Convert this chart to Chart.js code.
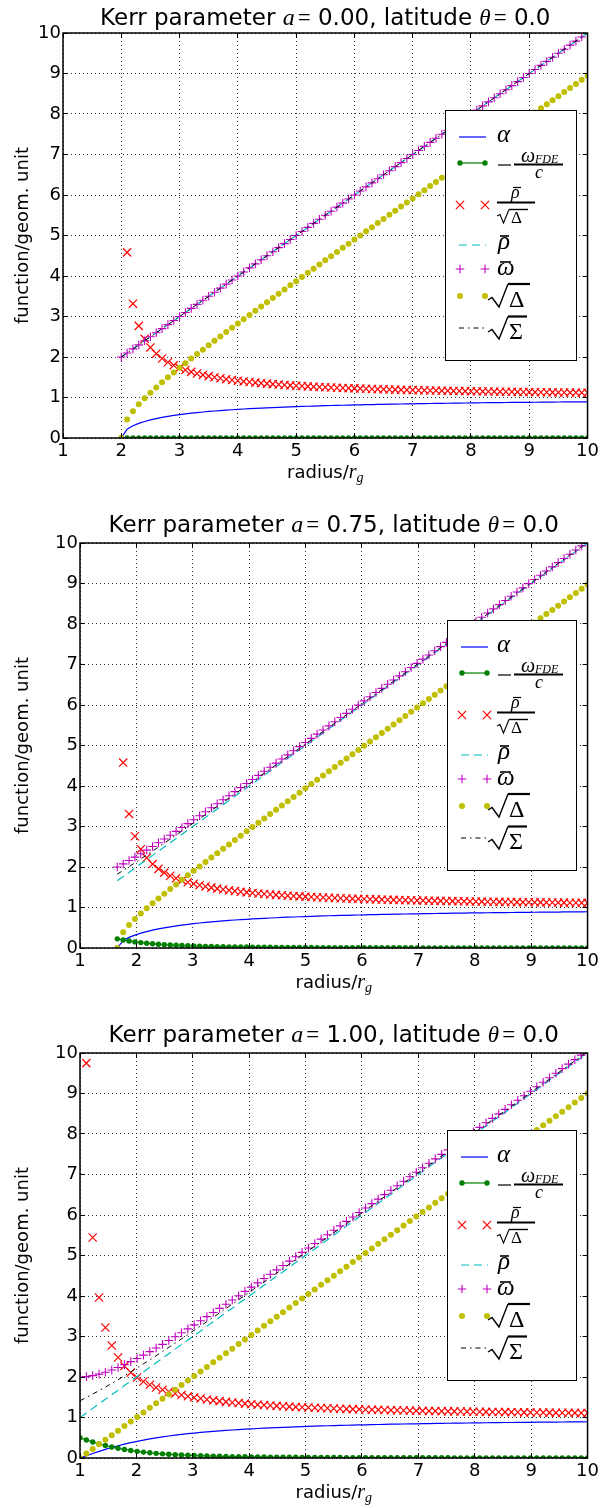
<!DOCTYPE html>
<html>
<head>
<meta charset="utf-8">
<script src="https://cdn.jsdelivr.net/npm/chart.js@4.4.0/dist/chart.umd.min.js"></script>
<style>
  body { margin: 0; background: #fff; width: 602px; height: 1508px; overflow: hidden; }
  canvas { position: absolute; left: 0; }
</style>
</head>
<body>
<canvas id="chart1" width="602" height="488" style="top:0px"></canvas>
<canvas id="chart2" width="602" height="488" style="top:510px"></canvas>
<canvas id="chart3" width="602" height="488" style="top:1020px"></canvas>
<script>
// Tick labels and panel parameters
const xTicks = [1, 2, 3, 4, 5, 6, 7, 8, 9, 10];
const yTicks = [0, 1, 2, 3, 4, 5, 6, 7, 8, 9, 10];
const kerrSpin = ['0.00', '0.75', '1.00'];
const latitude = '0.0';

// ---- Panel 1: a = 0.00 ----
const radius1 = [2.0,2.1,2.2,2.3,2.4,2.5,2.6,2.7,2.8,2.9,3.0,3.1,3.2,3.3,3.4,3.5,3.6,3.7,3.8,3.9,4.0,4.1,4.2,4.3,4.4,4.5,4.6,4.7,4.8,4.9,5.0,5.1,5.2,5.3,5.4,5.5,5.6,5.7,5.8,5.9,6.0,6.1,6.2,6.3,6.4,6.5,6.6,6.7,6.8,6.9,7.0,7.1,7.2,7.3,7.4,7.5,7.6,7.7,7.8,7.9,8.0,8.1,8.2,8.3,8.4,8.5,8.6,8.7,8.8,8.9,9.0,9.1,9.2,9.3,9.4,9.5,9.6,9.7,9.8,9.9,10.0];
const alpha1 = [0.000,0.218,0.302,0.361,0.408,0.447,0.480,0.509,0.535,0.557,0.577,0.596,0.612,0.628,0.642,0.655,0.667,0.678,0.688,0.698,0.707,0.716,0.724,0.731,0.739,0.745,0.752,0.758,0.764,0.769,0.775,0.780,0.784,0.789,0.794,0.798,0.802,0.806,0.809,0.813,0.816,0.820,0.823,0.826,0.829,0.832,0.835,0.838,0.840,0.843,0.845,0.848,0.850,0.852,0.854,0.856,0.858,0.860,0.862,0.864,0.866,0.868,0.870,0.871,0.873,0.874,0.876,0.878,0.879,0.880,0.882,0.883,0.885,0.886,0.887,0.889,0.890,0.891,0.892,0.893,0.894];
const omegaFDE1 = [0,0,0,0,0,0,0,0,0,0,0,0,0,0,0,0,0,0,0,0,0,0,0,0,0,0,0,0,0,0,0,0,0,0,0,0,0,0,0,0,0,0,0,0,0,0,0,0,0,0,0,0,0,0,0,0,0,0,0,0,0,0,0,0,0,0,0,0,0,0,0,0,0,0,0,0,0,0,0,0,0];
const rhoOverSqrtDelta1 = [null,4.583,3.317,2.769,2.449,2.236,2.082,1.964,1.871,1.795,1.732,1.679,1.633,1.593,1.558,1.528,1.500,1.475,1.453,1.433,1.414,1.397,1.382,1.367,1.354,1.342,1.330,1.319,1.309,1.300,1.291,1.283,1.275,1.267,1.260,1.254,1.247,1.241,1.235,1.230,1.225,1.220,1.215,1.210,1.206,1.202,1.198,1.194,1.190,1.187,1.183,1.180,1.177,1.174,1.171,1.168,1.165,1.162,1.160,1.157,1.155,1.152,1.150,1.148,1.146,1.144,1.142,1.140,1.138,1.136,1.134,1.132,1.130,1.129,1.127,1.125,1.124,1.122,1.121,1.119,1.118];
const rhoBar1 = [2.0,2.1,2.2,2.3,2.4,2.5,2.6,2.7,2.8,2.9,3.0,3.1,3.2,3.3,3.4,3.5,3.6,3.7,3.8,3.9,4.0,4.1,4.2,4.3,4.4,4.5,4.6,4.7,4.8,4.9,5.0,5.1,5.2,5.3,5.4,5.5,5.6,5.7,5.8,5.9,6.0,6.1,6.2,6.3,6.4,6.5,6.6,6.7,6.8,6.9,7.0,7.1,7.2,7.3,7.4,7.5,7.6,7.7,7.8,7.9,8.0,8.1,8.2,8.3,8.4,8.5,8.6,8.7,8.8,8.9,9.0,9.1,9.2,9.3,9.4,9.5,9.6,9.7,9.8,9.9,10.0];
const varpiBar1 = [2.0,2.1,2.2,2.3,2.4,2.5,2.6,2.7,2.8,2.9,3.0,3.1,3.2,3.3,3.4,3.5,3.6,3.7,3.8,3.9,4.0,4.1,4.2,4.3,4.4,4.5,4.6,4.7,4.8,4.9,5.0,5.1,5.2,5.3,5.4,5.5,5.6,5.7,5.8,5.9,6.0,6.1,6.2,6.3,6.4,6.5,6.6,6.7,6.8,6.9,7.0,7.1,7.2,7.3,7.4,7.5,7.6,7.7,7.8,7.9,8.0,8.1,8.2,8.3,8.4,8.5,8.6,8.7,8.8,8.9,9.0,9.1,9.2,9.3,9.4,9.5,9.6,9.7,9.8,9.9,10.0];
const sqrtDelta1 = [0.000,0.458,0.663,0.831,0.980,1.118,1.249,1.375,1.497,1.616,1.732,1.847,1.960,2.071,2.182,2.291,2.400,2.508,2.615,2.722,2.828,2.934,3.040,3.145,3.250,3.354,3.458,3.562,3.666,3.770,3.873,3.976,4.079,4.182,4.285,4.387,4.490,4.592,4.695,4.797,4.899,5.001,5.103,5.205,5.307,5.408,5.510,5.612,5.713,5.815,5.916,6.017,6.119,6.220,6.321,6.423,6.524,6.625,6.726,6.827,6.928,7.029,7.130,7.231,7.332,7.433,7.534,7.635,7.736,7.836,7.937,8.038,8.139,8.240,8.340,8.441,8.542,8.642,8.743,8.844,8.944];
const sqrtSigma1 = [2.0,2.1,2.2,2.3,2.4,2.5,2.6,2.7,2.8,2.9,3.0,3.1,3.2,3.3,3.4,3.5,3.6,3.7,3.8,3.9,4.0,4.1,4.2,4.3,4.4,4.5,4.6,4.7,4.8,4.9,5.0,5.1,5.2,5.3,5.4,5.5,5.6,5.7,5.8,5.9,6.0,6.1,6.2,6.3,6.4,6.5,6.6,6.7,6.8,6.9,7.0,7.1,7.2,7.3,7.4,7.5,7.6,7.7,7.8,7.9,8.0,8.1,8.2,8.3,8.4,8.5,8.6,8.7,8.8,8.9,9.0,9.1,9.2,9.3,9.4,9.5,9.6,9.7,9.8,9.9,10.0];

// ---- Panel 2: a = 0.75 ----
const radius2 = [1.661,1.766,1.870,1.974,2.078,2.183,2.287,2.391,2.495,2.600,2.704,2.808,2.912,3.016,3.121,3.225,3.329,3.433,3.538,3.642,3.746,3.850,3.955,4.059,4.163,4.267,4.371,4.476,4.580,4.684,4.788,4.893,4.997,5.101,5.205,5.310,5.414,5.518,5.622,5.726,5.831,5.935,6.039,6.143,6.248,6.352,6.456,6.560,6.665,6.769,6.873,6.977,7.082,7.186,7.290,7.394,7.498,7.603,7.707,7.811,7.915,8.020,8.124,8.228,8.332,8.437,8.541,8.645,8.749,8.853,8.958,9.062,9.166,9.270,9.375,9.479,9.583,9.687,9.792,9.896,10.000];
const alpha2 = [0.000,0.186,0.262,0.319,0.366,0.406,0.440,0.471,0.498,0.523,0.545,0.566,0.584,0.601,0.617,0.632,0.645,0.658,0.669,0.680,0.691,0.700,0.709,0.718,0.726,0.733,0.741,0.747,0.754,0.760,0.766,0.771,0.777,0.782,0.787,0.791,0.796,0.800,0.804,0.808,0.812,0.815,0.819,0.822,0.825,0.829,0.832,0.835,0.837,0.840,0.843,0.845,0.848,0.850,0.852,0.855,0.857,0.859,0.861,0.863,0.865,0.867,0.869,0.870,0.872,0.874,0.875,0.877,0.879,0.880,0.882,0.883,0.884,0.886,0.887,0.888,0.890,0.891,0.892,0.893,0.895];
const omegaFDE2 = [0.226,0.197,0.172,0.151,0.133,0.118,0.104,0.093,0.083,0.074,0.067,0.060,0.055,0.050,0.045,0.041,0.038,0.034,0.032,0.029,0.027,0.025,0.023,0.021,0.020,0.018,0.017,0.016,0.015,0.014,0.013,0.012,0.012,0.011,0.010,0.010,0.009,0.009,0.008,0.008,0.007,0.007,0.007,0.006,0.006,0.006,0.005,0.005,0.005,0.005,0.005,0.004,0.004,0.004,0.004,0.004,0.004,0.003,0.003,0.003,0.003,0.003,0.003,0.003,0.003,0.002,0.002,0.002,0.002,0.002,0.002,0.002,0.002,0.002,0.002,0.002,0.002,0.002,0.002,0.002,0.001];
const rhoOverSqrtDelta2 = [null,4.578,3.310,2.760,2.440,2.226,2.072,1.954,1.861,1.785,1.722,1.669,1.623,1.584,1.549,1.518,1.491,1.466,1.444,1.424,1.406,1.389,1.373,1.359,1.346,1.334,1.322,1.312,1.302,1.292,1.284,1.275,1.268,1.260,1.253,1.247,1.241,1.235,1.229,1.224,1.218,1.214,1.209,1.204,1.200,1.196,1.192,1.188,1.185,1.181,1.178,1.175,1.171,1.168,1.165,1.163,1.160,1.157,1.155,1.152,1.150,1.148,1.145,1.143,1.141,1.139,1.137,1.135,1.133,1.131,1.130,1.128,1.126,1.125,1.123,1.121,1.120,1.118,1.117,1.116,1.114];
const rhoBar2 = [1.661,1.766,1.870,1.974,2.078,2.183,2.287,2.391,2.495,2.600,2.704,2.808,2.912,3.016,3.121,3.225,3.329,3.433,3.538,3.642,3.746,3.850,3.955,4.059,4.163,4.267,4.371,4.476,4.580,4.684,4.788,4.893,4.997,5.101,5.205,5.310,5.414,5.518,5.622,5.726,5.831,5.935,6.039,6.143,6.248,6.352,6.456,6.560,6.665,6.769,6.873,6.977,7.082,7.186,7.290,7.394,7.498,7.603,7.707,7.811,7.915,8.020,8.124,8.228,8.332,8.437,8.541,8.645,8.749,8.853,8.958,9.062,9.166,9.270,9.375,9.479,9.583,9.687,9.792,9.896,10.000];
const varpiBar2 = [2.000,2.078,2.159,2.243,2.329,2.417,2.507,2.598,2.691,2.784,2.879,2.975,3.071,3.168,3.265,3.363,3.462,3.561,3.660,3.760,3.860,3.960,4.060,4.161,4.262,4.363,4.464,4.566,4.667,4.769,4.871,4.973,5.075,5.177,5.280,5.382,5.484,5.587,5.690,5.792,5.895,5.998,6.101,6.204,6.307,6.410,6.513,6.616,6.719,6.822,6.926,7.029,7.132,7.236,7.339,7.442,7.546,7.649,7.753,7.856,7.960,8.063,8.167,8.270,8.374,8.478,8.581,8.685,8.789,8.892,8.996,9.100,9.203,9.307,9.411,9.515,9.618,9.722,9.826,9.930,10.034];
const sqrtDelta2 = [0.000,0.386,0.565,0.715,0.852,0.980,1.104,1.224,1.341,1.456,1.570,1.683,1.794,1.905,2.015,2.124,2.233,2.342,2.450,2.558,2.665,2.773,2.880,2.986,3.093,3.200,3.306,3.412,3.518,3.624,3.730,3.836,3.942,4.047,4.153,4.259,4.364,4.469,4.575,4.680,4.785,4.890,4.996,5.101,5.206,5.311,5.416,5.521,5.626,5.731,5.836,5.941,6.045,6.150,6.255,6.360,6.465,6.569,6.674,6.779,6.884,6.988,7.093,7.198,7.302,7.407,7.512,7.616,7.721,7.826,7.930,8.035,8.139,8.244,8.348,8.453,8.558,8.662,8.767,8.871,8.976];
const sqrtSigma2 = [1.823,1.915,2.009,2.104,2.200,2.297,2.394,2.492,2.591,2.690,2.790,2.890,2.991,3.091,3.192,3.293,3.395,3.497,3.598,3.700,3.802,3.905,4.007,4.110,4.212,4.315,4.418,4.521,4.623,4.727,4.830,4.933,5.036,5.139,5.242,5.346,5.449,5.552,5.656,5.759,5.863,5.966,6.070,6.174,6.277,6.381,6.485,6.588,6.692,6.796,6.899,7.003,7.107,7.211,7.314,7.418,7.522,7.626,7.730,7.834,7.938,8.041,8.145,8.249,8.353,8.457,8.561,8.665,8.769,8.873,8.977,9.081,9.185,9.289,9.393,9.497,9.601,9.705,9.809,9.913,10.017];

// ---- Panel 3: a = 1.00 ----
const radius3 = [1.000,1.113,1.225,1.338,1.450,1.563,1.675,1.788,1.900,2.013,2.125,2.238,2.350,2.463,2.575,2.688,2.800,2.913,3.025,3.138,3.250,3.363,3.475,3.588,3.700,3.813,3.925,4.038,4.150,4.263,4.375,4.488,4.600,4.713,4.825,4.938,5.050,5.163,5.275,5.388,5.500,5.613,5.725,5.838,5.950,6.063,6.175,6.288,6.400,6.513,6.625,6.738,6.850,6.963,7.075,7.188,7.300,7.413,7.525,7.638,7.750,7.863,7.975,8.088,8.200,8.313,8.425,8.538,8.650,8.763,8.875,8.988,9.100,9.213,9.325,9.438,9.550,9.663,9.775,9.888,10.000];
const alpha3 = [0.000,0.056,0.111,0.163,0.213,0.259,0.302,0.342,0.378,0.412,0.443,0.471,0.497,0.521,0.543,0.564,0.582,0.600,0.616,0.631,0.645,0.658,0.670,0.681,0.692,0.702,0.711,0.720,0.728,0.736,0.744,0.751,0.757,0.764,0.770,0.775,0.781,0.786,0.791,0.796,0.800,0.805,0.809,0.813,0.817,0.820,0.824,0.827,0.831,0.834,0.837,0.840,0.843,0.845,0.848,0.850,0.853,0.855,0.858,0.860,0.862,0.864,0.866,0.868,0.870,0.872,0.874,0.876,0.877,0.879,0.881,0.882,0.884,0.885,0.887,0.888,0.889,0.891,0.892,0.893,0.895];
const omegaFDE3 = [0.500,0.446,0.395,0.349,0.308,0.271,0.239,0.211,0.186,0.164,0.146,0.130,0.115,0.103,0.092,0.083,0.075,0.068,0.061,0.056,0.051,0.046,0.042,0.039,0.035,0.033,0.030,0.028,0.026,0.024,0.022,0.021,0.019,0.018,0.017,0.016,0.015,0.014,0.013,0.012,0.012,0.011,0.010,0.010,0.009,0.009,0.008,0.008,0.007,0.007,0.007,0.006,0.006,0.006,0.006,0.005,0.005,0.005,0.005,0.004,0.004,0.004,0.004,0.004,0.004,0.003,0.003,0.003,0.003,0.003,0.003,0.003,0.003,0.003,0.002,0.002,0.002,0.002,0.002,0.002,0.002];
const rhoOverSqrtDelta3 = [null,9.75,5.444,3.963,3.222,2.778,2.481,2.270,2.111,1.988,1.889,1.808,1.741,1.684,1.635,1.593,1.556,1.523,1.494,1.468,1.444,1.423,1.404,1.386,1.370,1.356,1.342,1.329,1.317,1.307,1.296,1.287,1.278,1.269,1.261,1.254,1.247,1.240,1.234,1.228,1.222,1.217,1.212,1.207,1.202,1.198,1.193,1.189,1.185,1.181,1.178,1.174,1.171,1.168,1.165,1.162,1.159,1.156,1.153,1.151,1.148,1.146,1.143,1.141,1.139,1.137,1.135,1.133,1.131,1.129,1.127,1.125,1.123,1.122,1.120,1.119,1.117,1.115,1.114,1.113,1.111];
const rhoBar3 = [1.000,1.113,1.225,1.338,1.450,1.563,1.675,1.788,1.900,2.013,2.125,2.238,2.350,2.463,2.575,2.688,2.800,2.913,3.025,3.138,3.250,3.363,3.475,3.588,3.700,3.813,3.925,4.038,4.150,4.263,4.375,4.488,4.600,4.713,4.825,4.938,5.050,5.163,5.275,5.388,5.500,5.613,5.725,5.838,5.950,6.063,6.175,6.288,6.400,6.513,6.625,6.738,6.850,6.963,7.075,7.188,7.300,7.413,7.525,7.638,7.750,7.863,7.975,8.088,8.200,8.313,8.425,8.538,8.650,8.763,8.875,8.988,9.100,9.213,9.325,9.438,9.550,9.663,9.775,9.888,10.000];
const varpiBar3 = [2.000,2.009,2.033,2.070,2.117,2.173,2.236,2.305,2.380,2.458,2.541,2.627,2.715,2.806,2.900,2.994,3.091,3.189,3.288,3.388,3.490,3.592,3.695,3.798,3.903,4.007,4.113,4.219,4.325,4.431,4.538,4.646,4.753,4.861,4.969,5.078,5.186,5.295,5.404,5.513,5.623,5.732,5.842,5.951,6.061,6.171,6.281,6.391,6.502,6.612,6.723,6.833,6.944,7.054,7.165,7.276,7.387,7.498,7.609,7.720,7.831,7.942,8.053,8.164,8.276,8.387,8.498,8.609,8.721,8.832,8.944,9.055,9.167,9.278,9.390,9.501,9.613,9.725,9.836,9.948,10.060];
const sqrtDelta3 = [0.000,0.113,0.225,0.338,0.450,0.563,0.675,0.788,0.900,1.013,1.125,1.238,1.350,1.463,1.575,1.688,1.800,1.913,2.025,2.138,2.250,2.363,2.475,2.588,2.700,2.813,2.925,3.038,3.150,3.263,3.375,3.488,3.600,3.713,3.825,3.938,4.050,4.163,4.275,4.388,4.500,4.613,4.725,4.838,4.950,5.063,5.175,5.288,5.400,5.513,5.625,5.738,5.850,5.963,6.075,6.188,6.300,6.413,6.525,6.638,6.750,6.863,6.975,7.088,7.200,7.313,7.425,7.538,7.650,7.763,7.875,7.988,8.100,8.213,8.325,8.438,8.550,8.663,8.775,8.888,9.000];
const sqrtSigma3 = [1.414,1.495,1.578,1.664,1.752,1.843,1.935,2.030,2.126,2.224,2.324,2.424,2.526,2.629,2.733,2.837,2.942,3.048,3.154,3.261,3.368,3.475,3.583,3.692,3.800,3.909,4.018,4.127,4.237,4.346,4.456,4.566,4.676,4.786,4.897,5.007,5.118,5.228,5.339,5.450,5.561,5.672,5.783,5.894,6.005,6.117,6.228,6.339,6.451,6.562,6.674,6.785,6.897,7.008,7.120,7.232,7.343,7.455,7.567,7.679,7.790,7.902,8.014,8.126,8.238,8.350,8.462,8.573,8.685,8.797,8.909,9.021,9.133,9.245,9.357,9.470,9.582,9.694,9.806,9.918,10.030];

// Look of each series, in plotting order (alpha first, sqrt Sigma last/on top)
const styles = [
  { line: true, color: '#0000ff', width: 1.2 },
  { line: true, color: '#008000', width: 1.2, marker: 'circle', size: 2.7 },
  { color: '#ff0000', marker: 'crossRot', size: 5.8, lw: 1.2 },
  { line: true, color: '#00bfbf', width: 1.2, dash: [8, 5] },
  { color: '#bf00bf', marker: 'cross', size: 4.3, lw: 1.1 },
  { color: '#bfbf00', marker: 'circle', size: 3.0 },
  { line: true, color: '#000000', width: 1, dash: [5, 4, 1.5, 4] }
];

const SANS = '"DejaVu Sans", sans-serif';
const SERIF = '"Liberation Serif", "DejaVu Serif", serif';

const panels = [
  { id: 'chart1', left: 63, legendLeft: 445, titleY: 25, spin: kerrSpin[0],
    r: radius1, series: [alpha1, omegaFDE1, rhoOverSqrtDelta1, rhoBar1, varpiBar1, sqrtDelta1, sqrtSigma1] },
  { id: 'chart2', left: 80, legendLeft: 447, titleY: 22, spin: kerrSpin[1],
    r: radius2, series: [alpha2, omegaFDE2, rhoOverSqrtDelta2, rhoBar2, varpiBar2, sqrtDelta2, sqrtSigma2] },
  { id: 'chart3', left: 80, legendLeft: 447, titleY: 22, spin: kerrSpin[2],
    r: radius3, series: [alpha3, omegaFDE3, rhoOverSqrtDelta3, rhoBar3, varpiBar3, sqrtDelta3, sqrtSigma3] }
];

// draws a row of text pieces with different fonts
function richText(ctx, parts, x, y, align) {
  let total = 0;
  parts.forEach(p => {
    if (p.t) { ctx.font = p.font; p.w = ctx.measureText(p.t).width; } else { p.w = p.gap; }
    total += p.w;
  });
  let cx = align === 'center' ? x - total / 2 : x;
  ctx.textAlign = 'left';
  ctx.textBaseline = 'alphabetic';
  parts.forEach(p => {
    if (p.t) { ctx.font = p.font; ctx.fillText(p.t, cx, y + (p.dy || 0)); }
    cx += p.w;
  });
}

function polyline(ctx, pts, w) {
  ctx.lineWidth = w;
  ctx.beginPath();
  ctx.moveTo(pts[0][0], pts[0][1]);
  for (let i = 1; i < pts.length; i++) ctx.lineTo(pts[i][0], pts[i][1]);
  ctx.stroke();
}

function drawMarker(ctx, s, x, y) {
  ctx.save();
  ctx.strokeStyle = s.color;
  ctx.fillStyle = s.color;
  ctx.lineWidth = s.lw || 1;
  ctx.setLineDash([]);
  ctx.beginPath();
  if (s.marker === 'circle') {
    ctx.arc(x, y, s.size, 0, Math.PI * 2);
    ctx.fill();
  } else if (s.marker === 'crossRot') {
    const d = s.size * Math.SQRT1_2;
    ctx.moveTo(x - d, y - d); ctx.lineTo(x + d, y + d);
    ctx.moveTo(x + d, y - d); ctx.lineTo(x - d, y + d);
    ctx.stroke();
  } else {
    const d = s.size;
    ctx.moveTo(x - d, y); ctx.lineTo(x + d, y);
    ctx.moveTo(x, y - d); ctx.lineTo(x, y + d);
    ctx.stroke();
  }
  ctx.restore();
}

function drawLegend(ctx, p) {
  const L = p.legendLeft, R = 577, T = 110, B = 361;
  ctx.fillStyle = '#fff';
  ctx.fillRect(L, T, R - L, B - T);
  ctx.strokeStyle = '#000';
  ctx.lineWidth = 1;
  ctx.setLineDash([]);
  ctx.strokeRect(L + 0.5, T + 0.5, R - L - 1, B - T - 1);

  const h0 = L + 14, h1 = L + 41;
  const rowY = [137, 163, 205, 245, 269, 296, 328];
  styles.forEach((s, i) => {
    const y = rowY[i];
    if (s.line) {
      ctx.save();
      ctx.strokeStyle = s.color;
      ctx.lineWidth = s.width;
      ctx.setLineDash(s.dash || []);
      ctx.beginPath(); ctx.moveTo(h0, y); ctx.lineTo(h1, y); ctx.stroke();
      ctx.restore();
    }
    if (s.marker) { drawMarker(ctx, s, h0 + 1, y); drawMarker(ctx, s, h1 - 1, y); }
  });

  // labels (math set by hand)
  const tx = 497;
  ctx.fillStyle = '#000';
  ctx.strokeStyle = '#000';
  ctx.textBaseline = 'alphabetic';
  ctx.textAlign = 'left';
  const txt = (t, x, y, font) => { ctx.font = font; ctx.fillText(t, x, y); };

  txt('α', tx, 142, 'italic 25px ' + SERIF);

  polyline(ctx, [[tx + 1, 165], [tx + 14, 165]], 1.2);
  polyline(ctx, [[tx + 17, 164.5], [tx + 66, 164.5]], 1.8);
  txt('ω', tx + 24, 161.5, 'italic 20px ' + SERIF);
  txt('FDE', tx + 38, 162.5, 'italic 12px ' + SERIF);
  ctx.textAlign = 'center';
  txt('c', tx + 42, 177.5, 'italic 18px ' + SERIF);
  ctx.textAlign = 'left';

  polyline(ctx, [[tx, 202.5], [tx + 38, 202.5]], 1.8);
  txt('ρ', tx + 14, 198, 'italic 18px ' + SERIF);
  polyline(ctx, [[tx + 16, 187.5], [tx + 24, 187.5]], 1.2);
  polyline(ctx, [[tx, 216], [tx + 3, 214.5], [tx + 6.5, 223], [tx + 12, 209.5]], 1.1);
  polyline(ctx, [[tx + 12, 209.5], [tx + 31, 209.5]], 1.4);
  txt('Δ', tx + 14, 223, '17px ' + SERIF);

  txt('ρ', tx + 1, 249, 'italic 25px ' + SERIF);
  polyline(ctx, [[tx + 3, 236], [tx + 12, 236]], 1.6);

  txt('ω', tx, 275, 'italic 25px ' + SERIF);
  polyline(ctx, [[tx + 3, 262], [tx + 14, 262]], 1.6);

  polyline(ctx, [[tx - 9, 300], [tx - 5, 297.5], [tx + 2, 307], [tx + 11, 284]], 1.4);
  polyline(ctx, [[tx + 11, 284], [tx + 33, 284]], 2.2);
  txt('Δ', tx + 12, 307, '24px ' + SERIF);

  polyline(ctx, [[tx - 9, 332], [tx - 5, 329.5], [tx + 2, 339], [tx + 11, 316.5]], 1.4);
  polyline(ctx, [[tx + 11, 316.5], [tx + 30, 316.5]], 2.2);
  txt('Σ', tx + 12, 338.5, '24px ' + SERIF);
}

function drawDecor(chart, p) {
  const ctx = chart.ctx, a = chart.chartArea;
  const xs = chart.scales.x, ys = chart.scales.y;
  const snap = v => Math.round(v - 0.5) + 0.5;
  ctx.save();
  ctx.setLineDash([]);
  ctx.strokeStyle = '#000';
  ctx.lineWidth = 1;
  ctx.beginPath();
  xTicks.forEach(v => {
    const px = snap(xs.getPixelForValue(v));
    ctx.moveTo(px, a.bottom); ctx.lineTo(px, a.bottom - 5);
    ctx.moveTo(px, a.top); ctx.lineTo(px, a.top + 5);
  });
  yTicks.forEach(v => {
    const py = snap(ys.getPixelForValue(v));
    ctx.moveTo(a.left, py); ctx.lineTo(a.left + 5, py);
    ctx.moveTo(a.right, py); ctx.lineTo(a.right - 5, py);
  });
  ctx.stroke();
  ctx.lineWidth = 1.5;
  ctx.strokeRect(a.left, a.top, a.right - a.left, a.bottom - a.top);

  ctx.fillStyle = '#000';
  const cx = (a.left + a.right) / 2;
  richText(ctx, [
    { t: 'Kerr parameter ', font: '23px ' + SANS },
    { t: 'a', font: 'italic 24px ' + SERIF },
    { gap: 3 },
    { t: '=', font: '23px ' + SERIF },
    { t: ' ' + p.spin + ', latitude ', font: '23px ' + SANS },
    { t: 'θ', font: 'italic 23px ' + SERIF },
    { gap: 3 },
    { t: '=', font: '23px ' + SERIF },
    { t: ' ' + latitude, font: '23px ' + SANS }
  ], cx, p.titleY, 'center');

  richText(ctx, [
    { t: 'radius/', font: '18px ' + SANS },
    { t: 'r', font: 'italic 20px ' + SERIF },
    { t: 'g', font: 'italic 14px ' + SERIF, dy: 4 }
  ], cx, 478, 'center');

  ctx.save();
  ctx.translate(28, (a.top + a.bottom) / 2);
  ctx.rotate(-Math.PI / 2);
  ctx.font = '18px ' + SANS;
  ctx.textAlign = 'center';
  ctx.textBaseline = 'alphabetic';
  ctx.fillText('function/geom. unit', 0, 0);
  ctx.restore();

  drawLegend(ctx, p);
  ctx.restore();
}

function buildChart(p) {
  const datasets = p.series.map((ys, i) => {
    const s = styles[i];
    return {
      data: p.r.map((x, k) => ({ x: x, y: ys[k] })),
      showLine: !!s.line,
      borderColor: s.color,
      backgroundColor: s.color,
      borderWidth: s.width || 1,
      borderDash: s.dash || [],
      tension: 0,
      pointStyle: s.marker || 'circle',
      pointRadius: s.marker ? s.size : 0,
      pointHoverRadius: 0,
      pointBorderWidth: s.marker === 'circle' ? 0 : (s.lw || 1),
      pointBackgroundColor: s.color,
      pointBorderColor: s.color,
      order: styles.length - 1 - i
    };
  });

  const tickFont = { family: 'DejaVu Sans', size: 18 };
  return new Chart(document.getElementById(p.id), {
    type: 'scatter',
    data: { datasets: datasets },
    options: {
      responsive: false,
      animation: false,
      events: [],
      layout: { padding: { left: 0, right: 14, top: 33, bottom: 0 } },
      plugins: { legend: { display: false }, tooltip: { enabled: false } },
      scales: {
        x: {
          type: 'linear', min: 1, max: 10,
          afterBuildTicks: s => { s.ticks = xTicks.map(v => ({ value: v })); },
          afterFit: s => { s.height = 50; },
          ticks: { color: '#000', font: tickFont, padding: 3, autoSkip: false, maxRotation: 0, callback: v => String(v) },
          grid: { color: 'rgba(0,0,0,0.8)', lineWidth: 1, drawTicks: false },
          border: { display: false, dash: [1, 3] }
        },
        y: {
          type: 'linear', min: 0, max: 10,
          afterBuildTicks: s => { s.ticks = yTicks.map(v => ({ value: v })); },
          afterFit: s => { s.width = p.left; },
          ticks: { color: '#000', font: tickFont, padding: 2, autoSkip: false, callback: v => String(v) },
          grid: { color: 'rgba(0,0,0,0.8)', lineWidth: 1, drawTicks: false },
          border: { display: false, dash: [1, 3] }
        }
      }
    },
    plugins: [{ id: 'decor', afterDraw: chart => drawDecor(chart, p) }]
  });
}

panels.forEach(buildChart);
</script>
</body>
</html>
